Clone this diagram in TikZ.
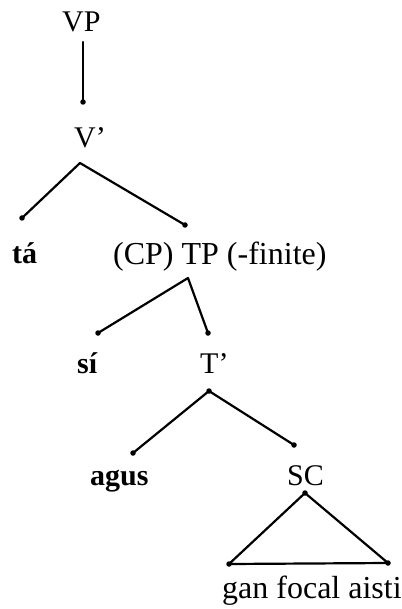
\documentclass[tikz,border=0pt]{standalone}
\usepackage{fontspec}
\setmainfont{Liberation Serif}
\begin{document}
\begin{tikzpicture}[x=1pt,y=-1pt,
  lbl/.style={anchor=base west, inner sep=0pt, font=\fontsize{30}{34}\selectfont},
  wlbl/.style={lbl, font=\fontsize{32}{36}\selectfont},
  blbl/.style={lbl, font=\fontsize{30}{34}\selectfont\bfseries},
  branch/.style={line width=2.2pt, line cap=round, line join=round},
  knot/.style={circle, fill=black, inner sep=0pt, minimum size=5.5pt}]
\useasboundingbox[fill=white] (0,0) rectangle (401,609);

% labels
\node[lbl]  (vp)  at (62,32)   {VP};
\node[lbl]  (vb)  at (74,148)  {V’};
\node[blbl] (ta)  at (12,263)  {tá};
\node[wlbl] (tp)  at (113,264) {(CP) TP (-finite)};
\node[blbl] (si)  at (77,373)  {sí};
\node[lbl]  (tb)  at (200,373) {T’};
\node[blbl] (ag)  at (90,485)  {agus};
\node[lbl]  (sc)  at (287,485) {SC};
\node[wlbl] (gfa) at (222,598) {gan focal aisti};

% branch end points
\coordinate (vp-top) at (83,42);
\coordinate (vp-bot) at (83,102);
\coordinate (vb-top) at (80,163);
\coordinate (vb-l)   at (22,218);
\coordinate (vb-r)   at (185,225);
\coordinate (tp-top) at (188,278);
\coordinate (tp-l)   at (98,333);
\coordinate (tp-r)   at (208,333);
\coordinate (tb-top) at (209,391);
\coordinate (tb-l)   at (133,453);
\coordinate (tb-r)   at (294,445);
\coordinate (sc-top) at (305,493);
\coordinate (sc-l)   at (229,564);
\coordinate (sc-r)   at (388,563);

% branches
\draw[branch] (vp-top) -- (vp-bot);
\draw[branch] (vb-l) -- (vb-top) -- (vb-r);
\draw[branch] (tp-l) -- (tp-top) -- (tp-r);
\draw[branch] (tb-l) -- (tb-top) -- (tb-r);
\draw[branch] (sc-top) -- (sc-l) -- (sc-r) -- cycle;

% small dots at the branch ends
\foreach \p in {vp-bot, vb-l, vb-r, tp-l, tp-r, tb-top, tb-l, tb-r, sc-top, sc-l, sc-r}
  \node[knot] at (\p) {};
\end{tikzpicture}
\end{document}
